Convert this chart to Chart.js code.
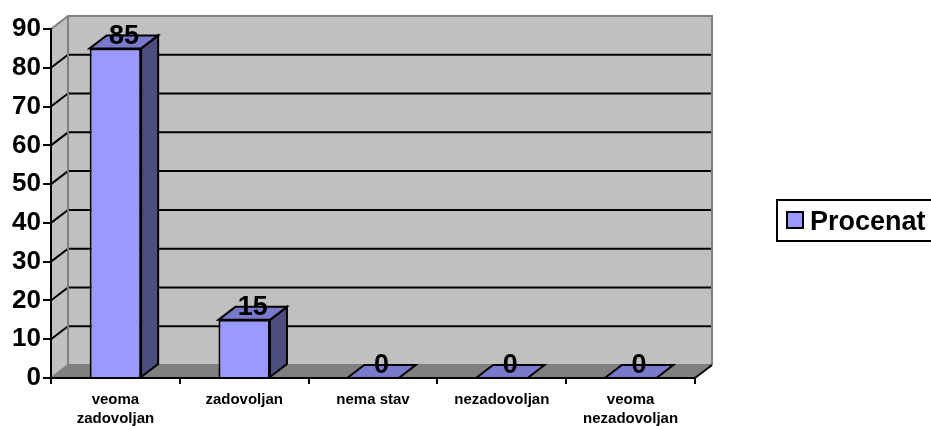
<!DOCTYPE html>
<html>
<head>
<meta charset="utf-8">
<script src="https://cdn.jsdelivr.net/npm/chart.js@4/dist/chart.umd.min.js"></script>
<style>
html,body{margin:0;padding:0;background:#fff;}
#wrap{width:931px;height:426px;position:relative;}
</style>
</head>
<body>
<div id="wrap"><canvas id="c"></canvas></div>
<script>
const categories = [["veoma","zadovoljan"], "zadovoljan", "nema stav", "nezadovoljan", ["veoma","nezadovoljan"]];
const seriesName = "Procenat";
const values = [85, 15, 0, 0, 0];
const yTicks = [0, 10, 20, 30, 40, 50, 60, 70, 80, 90];

const DX = 17, DY = -13;
const FONT = "'Liberation Sans', Arial, sans-serif";
const FRONT = '#9999FF', TOP = '#7A7ACC', SIDE = '#4D4D80';

const box3d = {
  id: 'box3d',
  beforeDraw(chart) {
    const ctx = chart.ctx, a = chart.chartArea, y = chart.scales.y;
    const L = a.left, R = a.right, T = y.getPixelForValue(yTicks[yTicks.length-1]), B = y.getPixelForValue(0);
    ctx.save();
    ctx.fillStyle = '#C0C0C0';
    ctx.beginPath();
    ctx.moveTo(L, T); ctx.lineTo(L+DX, T+DY); ctx.lineTo(L+DX, B+DY); ctx.lineTo(L, B); ctx.closePath();
    ctx.fill();
    ctx.fillRect(L+DX, T+DY, R-L, B-T);
    ctx.fillStyle = '#808080';
    ctx.beginPath();
    ctx.moveTo(L, B); ctx.lineTo(L+DX, B+DY); ctx.lineTo(R+DX, B+DY); ctx.lineTo(R, B); ctx.closePath();
    ctx.fill();
    ctx.lineWidth = 2;
    ctx.strokeStyle = '#000';
    yTicks.forEach(v => {
      if (v === 0 || v === yTicks[yTicks.length-1]) return;
      const p = y.getPixelForValue(v);
      ctx.beginPath();
      ctx.moveTo(L, p); ctx.lineTo(L+DX, p+DY); ctx.lineTo(R+DX, p+DY);
      ctx.stroke();
    });
    ctx.strokeStyle = '#808080';
    ctx.beginPath();
    ctx.moveTo(L, T); ctx.lineTo(L+DX, T+DY); ctx.lineTo(R+DX, T+DY); ctx.lineTo(R+DX, B+DY);
    ctx.moveTo(L+DX, T+DY); ctx.lineTo(L+DX, B+DY); ctx.lineTo(R+DX, B+DY);
    ctx.moveTo(L, B); ctx.lineTo(L+DX, B+DY);
    ctx.stroke();
    ctx.strokeStyle = '#000';
    ctx.beginPath();
    ctx.moveTo(R, B); ctx.lineTo(R+DX, B+DY);
    ctx.stroke();
    ctx.restore();
  },
  afterDatasetsDraw(chart) {
    const ctx = chart.ctx;
    const meta = chart.getDatasetMeta(0);
    ctx.save();
    ctx.lineWidth = 2;
    ctx.strokeStyle = '#000';
    ctx.lineJoin = 'miter';
    meta.data.forEach((bar, i) => {
      const p = bar.getProps(['x','y','base','width'], true);
      const l = p.x - p.width/2, r = p.x + p.width/2, t = p.y, b = p.base;
      if (b - t > 0.5) {
        ctx.fillStyle = SIDE;
        ctx.beginPath();
        ctx.moveTo(r, t); ctx.lineTo(r+DX, t+DY); ctx.lineTo(r+DX, b+DY); ctx.lineTo(r, b); ctx.closePath();
        ctx.fill(); ctx.stroke();
      }
      ctx.fillStyle = TOP;
      ctx.beginPath();
      ctx.moveTo(l, t); ctx.lineTo(l+DX, t+DY); ctx.lineTo(r+DX, t+DY); ctx.lineTo(r, t); ctx.closePath();
      ctx.fill(); ctx.stroke();
    });
    ctx.fillStyle = '#000';
    ctx.font = 'bold 27px ' + FONT;
    ctx.textAlign = 'center';
    ctx.textBaseline = 'middle';
    meta.data.forEach((bar, i) => {
      const p = bar.getProps(['x','y'], true);
      ctx.fillText(String(values[i]), p.x + DX/2, p.y + DY + 1);
    });
    ctx.restore();
  },
  afterDraw(chart) {
    const ctx = chart.ctx;
    const ds = chart.data.datasets[0];
    ctx.save();
    ctx.lineWidth = 2;
    ctx.strokeStyle = '#000';
    ctx.strokeRect(777, 200, 170, 41);
    ctx.fillStyle = ds.backgroundColor;
    ctx.fillRect(787, 212, 16, 16);
    ctx.strokeRect(787, 212, 16, 16);
    ctx.fillStyle = '#000';
    ctx.font = 'bold 27px ' + FONT;
    ctx.textAlign = 'left';
    ctx.textBaseline = 'alphabetic';
    ctx.fillText(ds.label, 810, 230);
    ctx.restore();
  }
};

new Chart(document.getElementById('c'), {
  type: 'bar',
  data: {
    labels: categories,
    datasets: [{
      label: seriesName,
      data: values,
      backgroundColor: FRONT,
      borderColor: '#000',
      borderWidth: 2,
      borderSkipped: 'bottom',
      categoryPercentage: 1.0,
      barPercentage: 0.4
    }]
  },
  options: {
    responsive: true,
    maintainAspectRatio: false,
    animation: false,
    layout: { padding: { top: 29, right: 236, left: 0, bottom: 0 } },
    plugins: { legend: { display: false }, tooltip: { enabled: false } },
    scales: {
      x: {
        grid: { offset: true, drawOnChartArea: false, color: '#000', lineWidth: 2, tickLength: 6 },
        border: { display: true, color: '#000', width: 2 },
        ticks: { color: '#000', font: { family: FONT, size: 15, weight: 'bold', lineHeight: 1.27 }, padding: 6, maxRotation: 0, autoSkip: false },
        afterFit(s) { s.height = 48; }
      },
      y: {
        min: 0, max: 90,
        afterBuildTicks(s) { s.ticks = yTicks.map(v => ({ value: v })); },
        grid: { drawOnChartArea: false, color: '#000', lineWidth: 2, tickLength: 8 },
        border: { display: true, color: '#000', width: 2 },
        ticks: { color: '#000', font: { family: FONT, size: 26, weight: 'bold' }, padding: 2 },
        afterFit(s) { s.width = 51; }
      }
    }
  },
  plugins: [box3d]
});
</script>
</body>
</html>
